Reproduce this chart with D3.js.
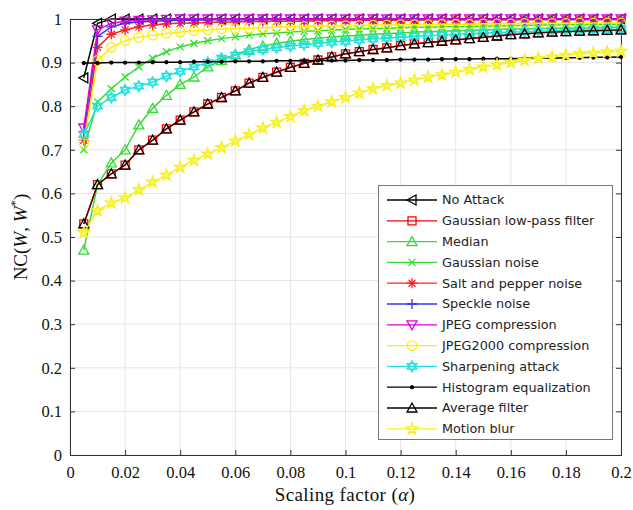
<!DOCTYPE html>
<html><head><meta charset="utf-8">
<script src="https://cdn.jsdelivr.net/npm/d3@7"></script>
<style>body{margin:0;background:#fff;} svg{display:block;}</style>
</head><body>
<svg id="c" width="633" height="510"></svg>
<script>
const alpha = [0.005,0.01,0.015,0.02,0.025,0.03,0.035,0.04,0.045,0.05,0.055,0.06,0.065,0.07,0.075,0.08,0.085,0.09,0.095,0.1,0.105,0.11,0.115,0.12,0.125,0.13,0.135,0.14,0.145,0.15,0.155,0.16,0.165,0.17,0.175,0.18,0.185,0.19,0.195,0.2];
const noAttack = [0.865,0.99,1,1,1,1,1,1,1,1,1,1,1,1,1,1,1,1,1,1,1,1,1,1,1,1,1,1,1,1,1,1,1,1,1,1,1,1,1,1];
const gaussLowPass = [0.53,0.62,0.645,0.665,0.70,0.722,0.748,0.768,0.787,0.805,0.82,0.835,0.853,0.866,0.878,0.889,0.898,0.906,0.913,0.92,0.925,0.93,0.934,0.939,0.943,0.946,0.949,0.952,0.955,0.958,0.961,0.964,0.966,0.968,0.97,0.971,0.972,0.973,0.974,0.975];
const median = [0.47,0.62,0.67,0.70,0.757,0.795,0.825,0.85,0.867,0.89,0.905,0.918,0.93,0.938,0.944,0.949,0.953,0.956,0.959,0.961,0.963,0.965,0.967,0.968,0.97,0.971,0.972,0.973,0.974,0.975,0.976,0.977,0.977,0.978,0.978,0.979,0.979,0.98,0.98,0.981];
const gaussNoise = [0.70,0.81,0.84,0.867,0.89,0.91,0.925,0.936,0.944,0.95,0.955,0.959,0.963,0.966,0.968,0.97,0.972,0.973,0.975,0.976,0.977,0.978,0.979,0.98,0.981,0.981,0.982,0.983,0.983,0.984,0.984,0.985,0.985,0.986,0.986,0.987,0.987,0.987,0.988,0.988];
const saltPepper = [0.722,0.935,0.965,0.975,0.982,0.986,0.989,0.99,0.991,0.992,0.993,0.993,0.994,0.994,0.995,0.995,0.995,0.996,0.996,0.996,0.997,0.997,0.997,0.997,0.997,0.998,0.998,0.998,0.998,0.998,0.998,0.998,0.999,0.999,0.999,0.999,0.999,0.999,0.999,0.999];
const speckle = [0.742,0.96,0.982,0.99,0.993,0.995,0.996,0.997,0.997,0.998,0.998,0.998,0.998,0.999,0.999,0.999,0.999,0.999,0.999,0.999,0.999,0.999,0.999,0.999,0.999,0.999,0.999,0.999,0.999,0.999,0.999,0.999,0.999,0.999,0.999,0.999,0.999,0.999,0.999,0.999];
const jpeg = [0.75,0.975,0.99,0.995,0.997,0.998,0.999,1,1,1,1,1,1,1,1,1,1,1,1,1,1,1,1,1,1,1,1,1,1,1,1,1,1,1,1,1,1,1,1,1];
const jpeg2000 = [0.715,0.905,0.935,0.95,0.958,0.963,0.967,0.97,0.973,0.975,0.977,0.978,0.979,0.98,0.981,0.982,0.983,0.984,0.984,0.985,0.985,0.986,0.986,0.987,0.987,0.987,0.988,0.988,0.988,0.989,0.989,0.989,0.99,0.99,0.99,0.99,0.991,0.991,0.991,0.991];
const sharpening = [0.735,0.80,0.82,0.837,0.846,0.855,0.869,0.88,0.89,0.90,0.91,0.917,0.925,0.93,0.934,0.938,0.941,0.944,0.947,0.949,0.952,0.954,0.956,0.958,0.96,0.962,0.963,0.965,0.966,0.968,0.969,0.97,0.971,0.972,0.973,0.974,0.975,0.975,0.976,0.976];
const histEq = [0.899,0.899,0.9,0.9,0.9,0.901,0.901,0.901,0.902,0.902,0.902,0.903,0.903,0.903,0.904,0.904,0.904,0.905,0.905,0.905,0.906,0.906,0.906,0.907,0.907,0.907,0.908,0.908,0.908,0.909,0.909,0.909,0.91,0.91,0.91,0.911,0.911,0.912,0.912,0.913];
const averageFilter = [0.53,0.62,0.645,0.665,0.70,0.722,0.748,0.768,0.787,0.805,0.82,0.835,0.853,0.866,0.878,0.889,0.898,0.906,0.913,0.92,0.925,0.93,0.934,0.939,0.943,0.946,0.949,0.952,0.955,0.958,0.961,0.964,0.966,0.968,0.97,0.971,0.972,0.973,0.974,0.975];
const motionBlur = [0.51,0.56,0.578,0.59,0.608,0.626,0.642,0.66,0.676,0.69,0.705,0.72,0.735,0.75,0.763,0.776,0.79,0.80,0.81,0.82,0.83,0.84,0.847,0.853,0.86,0.867,0.872,0.878,0.884,0.89,0.895,0.90,0.905,0.91,0.913,0.917,0.92,0.922,0.924,0.926];

const seriesNames = ["No Attack","Gaussian low-pass filter","Median","Gaussian noise","Salt and pepper noise","Speckle noise","JPEG compression","JPEG2000 compression","Sharpening attack","Histogram equalization","Average filter","Motion blur"];
const seriesValues = [noAttack,gaussLowPass,median,gaussNoise,saltPepper,speckle,jpeg,jpeg2000,sharpening,histEq,averageFilter,motionBlur];
const xTicks = [0,0.02,0.04,0.06,0.08,0.1,0.12,0.14,0.16,0.18,0.2];
const yTicks = [0,0.1,0.2,0.3,0.4,0.5,0.6,0.7,0.8,0.9,1];

const styles = [
  {color:"#000000", marker:"triLeft", fill:"none"},
  {color:"#ff0000", marker:"square", fill:"none"},
  {color:"#33dd33", marker:"triUp", fill:"none"},
  {color:"#33dd33", marker:"x", fill:"none"},
  {color:"#ff2020", marker:"asterisk", fill:"none"},
  {color:"#3333ee", marker:"plus", fill:"none"},
  {color:"#e000e0", marker:"triDown", fill:"none"},
  {color:"#ffee00", marker:"circle", fill:"none"},
  {color:"#22e0e0", marker:"hexagram", fill:"none"},
  {color:"#000000", marker:"dot", fill:"#000"},
  {color:"#000000", marker:"triUp", fill:"none"},
  {color:"#f5f020", marker:"star", fill:"#f8f560"}
];

function markerPath(type){
  const s=5;
  switch(type){
    case "triLeft": return `M${-s},0L${s*0.8},${-s}L${s*0.8},${s}Z`;
    case "triUp": return `M0,${-s}L${s},${s*0.8}L${-s},${s*0.8}Z`;
    case "triDown": return `M0,${s}L${s},${-s*0.8}L${-s},${-s*0.8}Z`;
    case "square": return `M-4,-4H4V4H-4Z`;
    case "x": {const t=3.5; return `M${-t},${-t}L${t},${t}M${-t},${t}L${t},${-t}`;}
    case "plus": return `M${-s},0H${s}M0,${-s}V${s}`;
    case "asterisk": {const t=3.5; return `M${-s},0H${s}M0,${-s}V${s}M${-t},${-t}L${t},${t}M${-t},${t}L${t},${-t}`;}
    case "circle": return d3.symbol(d3.symbolCircle, 70)();
    case "dot": return d3.symbol(d3.symbolCircle, 7)();
    case "star": return d3.symbol(d3.symbolStar, 42)();
    case "hexagram": {
      const r=5.5;
      const tri=(off)=>{const p=[0,1,2].map(i=>{const ang=off+i*2*Math.PI/3; return [r*Math.sin(ang), -r*Math.cos(ang)];}); return `M${p[0][0]},${p[0][1]}L${p[1][0]},${p[1][1]}L${p[2][0]},${p[2][1]}Z`;};
      return tri(0)+tri(Math.PI);
    }
  }
}

const svg = d3.select("#c");
const L=70, R=621, T=19, B=455;
const x = d3.scaleLinear().domain([0,0.2]).range([L,R]);
const y = d3.scaleLinear().domain([0,1]).range([B,T]);
const serifStyle = "'Liberation Serif','DejaVu Serif',serif";

// grid
const g = svg.append("g");
g.selectAll(".gx").data(xTicks).join("line").attr("x1",d=>x(d)).attr("x2",d=>x(d)).attr("y1",T).attr("y2",B).attr("stroke","#e6e6e6").attr("stroke-width",1);
g.selectAll(".gy").data(yTicks).join("line").attr("y1",d=>y(d)).attr("y2",d=>y(d)).attr("x1",L).attr("x2",R).attr("stroke","#e6e6e6").attr("stroke-width",1);

// axes with inward ticks
const axB = d3.axisBottom(x).tickValues(xTicks).tickSize(-5).tickFormat(d3.format("")).tickPadding(11);
const axL = d3.axisLeft(y).tickValues(yTicks).tickSize(-5).tickFormat(d3.format("")).tickPadding(8);
const axT = d3.axisTop(x).tickValues(xTicks).tickSize(-5).tickFormat("");
const axR = d3.axisRight(y).tickValues(yTicks).tickSize(-5).tickFormat("");
[[axB,`translate(0,${B})`],[axL,`translate(${L},0)`],[axT,`translate(0,${T})`],[axR,`translate(${R},0)`]].forEach(([a,t])=>{
  const gg=svg.append("g").attr("transform",t).call(a);
  gg.attr("font-family",null).attr("font-size",null);
  gg.select(".domain").attr("stroke","#333");
  gg.selectAll(".tick line").attr("stroke","#333");
  gg.selectAll("text").style("font-family",serifStyle).style("font-size","16.5px").attr("fill","#111");
});

// series
const line = d3.line().x((d,i)=>x(alpha[i])).y(d=>y(d));
seriesValues.forEach((vals,k)=>{
  const st=styles[k];
  const sg=svg.append("g");
  sg.append("path").attr("d",line(vals)).attr("fill","none").attr("stroke",k===10?"#4a0505":st.color).attr("stroke-width",k===10?1.3:1.5);
  sg.selectAll("path.m").data(vals).join("path").attr("class","m")
    .attr("transform",(d,i)=>`translate(${x(alpha[i])},${y(d)})`)
    .attr("d",markerPath(st.marker)).attr("fill",st.fill).attr("stroke",st.color).attr("stroke-width",1.3);
});

// legend
const lg = svg.append("g");
lg.append("rect").attr("x",378.5).attr("y",185.5).attr("width",234).attr("height",254).attr("fill","#fff").attr("stroke","#777").attr("stroke-width",1);
seriesNames.forEach((name,k)=>{
  const st=styles[k];
  const yy=200+k*20.8;
  lg.append("line").attr("x1",387).attr("x2",437).attr("y1",yy).attr("y2",yy).attr("stroke",st.color).attr("stroke-width",1.3);
  lg.append("path").attr("transform",`translate(412,${yy})`).attr("d",markerPath(st.marker)).attr("fill",k===11?"none":st.fill).attr("stroke",st.color).attr("stroke-width",1.3);
  lg.append("text").attr("x",442).attr("y",yy).attr("dy","0.35em").style("font-family","'DejaVu Sans',Verdana,sans-serif").style("font-size","12.8px").attr("fill","#222").text(name);
});

// axis labels
const xl = svg.append("text").attr("x",345).attr("y",501).attr("text-anchor","middle").style("font-family",serifStyle).style("font-size","19px").style("letter-spacing","0.4px").attr("fill","#111");
xl.append("tspan").text("Scaling factor (");
xl.append("tspan").attr("font-style","italic").text("α");
xl.append("tspan").text(")");

const yl = svg.append("text").attr("transform",`translate(27,${(T+B)/2}) rotate(-90)`).attr("text-anchor","middle").style("font-family",serifStyle).style("font-size","19px").attr("fill","#111");
yl.append("tspan").text("NC(");
yl.append("tspan").attr("font-style","italic").text("W");
yl.append("tspan").text(", ");
yl.append("tspan").attr("font-style","italic").text("W");
yl.append("tspan").attr("font-size",13).attr("dy",-8).text("*");
yl.append("tspan").attr("dy",8).text(")");
</script>
</body></html>
